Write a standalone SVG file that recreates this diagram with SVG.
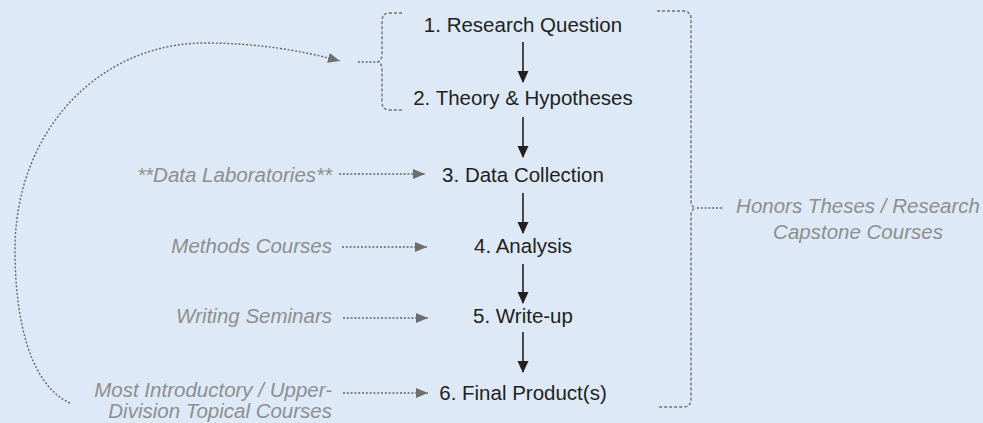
<svg xmlns="http://www.w3.org/2000/svg" width="983" height="423" viewBox="0 0 983 423">
<defs>
<style>
.step{font-family:"Liberation Sans",Arial,Helvetica,sans-serif;font-size:20.5px;fill:#231f20;text-anchor:middle}
.lbl{font-family:"Liberation Sans",Arial,Helvetica,sans-serif;font-size:20.5px;font-style:italic;fill:#8e8e8e;text-anchor:end}
.lblc{font-family:"Liberation Sans",Arial,Helvetica,sans-serif;font-size:20.5px;font-style:italic;fill:#8e8e8e;text-anchor:middle}
.solid{stroke:#231f20;stroke-width:1.6;fill:none}
.dot{stroke:#666666;stroke-width:1.4;fill:none;stroke-dasharray:2 1.8}
.brk{stroke:#707070;stroke-width:1.4;fill:none;stroke-dasharray:3 2}
</style>
<marker id="ah" markerWidth="12" markerHeight="12" refX="11" refY="5.5" orient="auto" markerUnits="userSpaceOnUse">
<path d="M0,0 L12,5.5 L0,11 Z" fill="#231f20"/>
</marker>
<marker id="ahg" markerWidth="13" markerHeight="11" refX="12" refY="5" orient="auto" markerUnits="userSpaceOnUse">
<path d="M0,0 L12,5 L0,10 Z" fill="#6e6e6e"/>
</marker>
</defs>
<rect width="983" height="423" fill="#dde9f6"/>

<g id="n1"><text class="step" x="523" y="32">1. Research Question</text></g>
<g id="n2"><text class="step" x="523" y="105">2. Theory &amp; Hypotheses</text></g>
<g id="n3"><text class="step" x="523" y="182">3. Data Collection</text></g>
<g id="n4"><text class="step" x="523" y="253">4. Analysis</text></g>
<g id="n5"><text class="step" x="523" y="323">5. Write-up</text></g>
<g id="n6"><text class="step" x="523" y="400">6. Final Product(s)</text></g>

<g id="l3"><text class="lbl" x="332" y="182">**Data Laboratories**</text></g>
<g id="l4"><text class="lbl" x="332" y="253">Methods Courses</text></g>
<g id="l5"><text class="lbl" x="332" y="323">Writing Seminars</text></g>
<g id="l6"><text class="lbl" x="332" y="397">Most Introductory / Upper-</text><text class="lbl" x="332" y="418">Division Topical Courses</text></g>
<g id="lh"><text class="lblc" x="858" y="213">Honors Theses / Research</text><text class="lblc" x="858" y="239">Capstone Courses</text></g>

<g id="brackets">
<path class="brk" d="M402,13 L390,13 Q382,13 382,21 L382,55 Q382,60 378,62 Q382,64 382,69 L382,102 Q382,110 390,110 L402,110"/>
<path class="brk" d="M657,11 L683,11 Q691,11 691,19 L691,201 Q691,206 695,208 Q691,210 691,215 L691,399 Q691,407 683,407 L657,407"/>
</g>

<g id="connectors">
<path class="solid" d="M523,42 L523,82" marker-end="url(#ah)"/>
<path class="solid" d="M523,117 L523,157" marker-end="url(#ah)"/>
<path class="solid" d="M523,193 L523,233" marker-end="url(#ah)"/>
<path class="solid" d="M523,264 L523,303" marker-end="url(#ah)"/>
<path class="solid" d="M523,332 L523,372" marker-end="url(#ah)"/>
<path class="dot" d="M339,174 L425,174" marker-end="url(#ahg)"/>
<path class="dot" d="M342,247 L427,247" marker-end="url(#ahg)"/>
<path class="dot" d="M343,318 L428,318" marker-end="url(#ahg)"/>
<path class="dot" d="M343,393 L428,393" marker-end="url(#ahg)"/>
<path class="dot" d="M358,62 L376,62"/>
<path class="dot" d="M70,403 C30,385 15,320 15,250 C15,130 100,43 205,43 C255,43 300,50 340,61" marker-end="url(#ahg)"/>
<path class="dot" d="M697,208 L724,208"/>
</g>
</svg>
